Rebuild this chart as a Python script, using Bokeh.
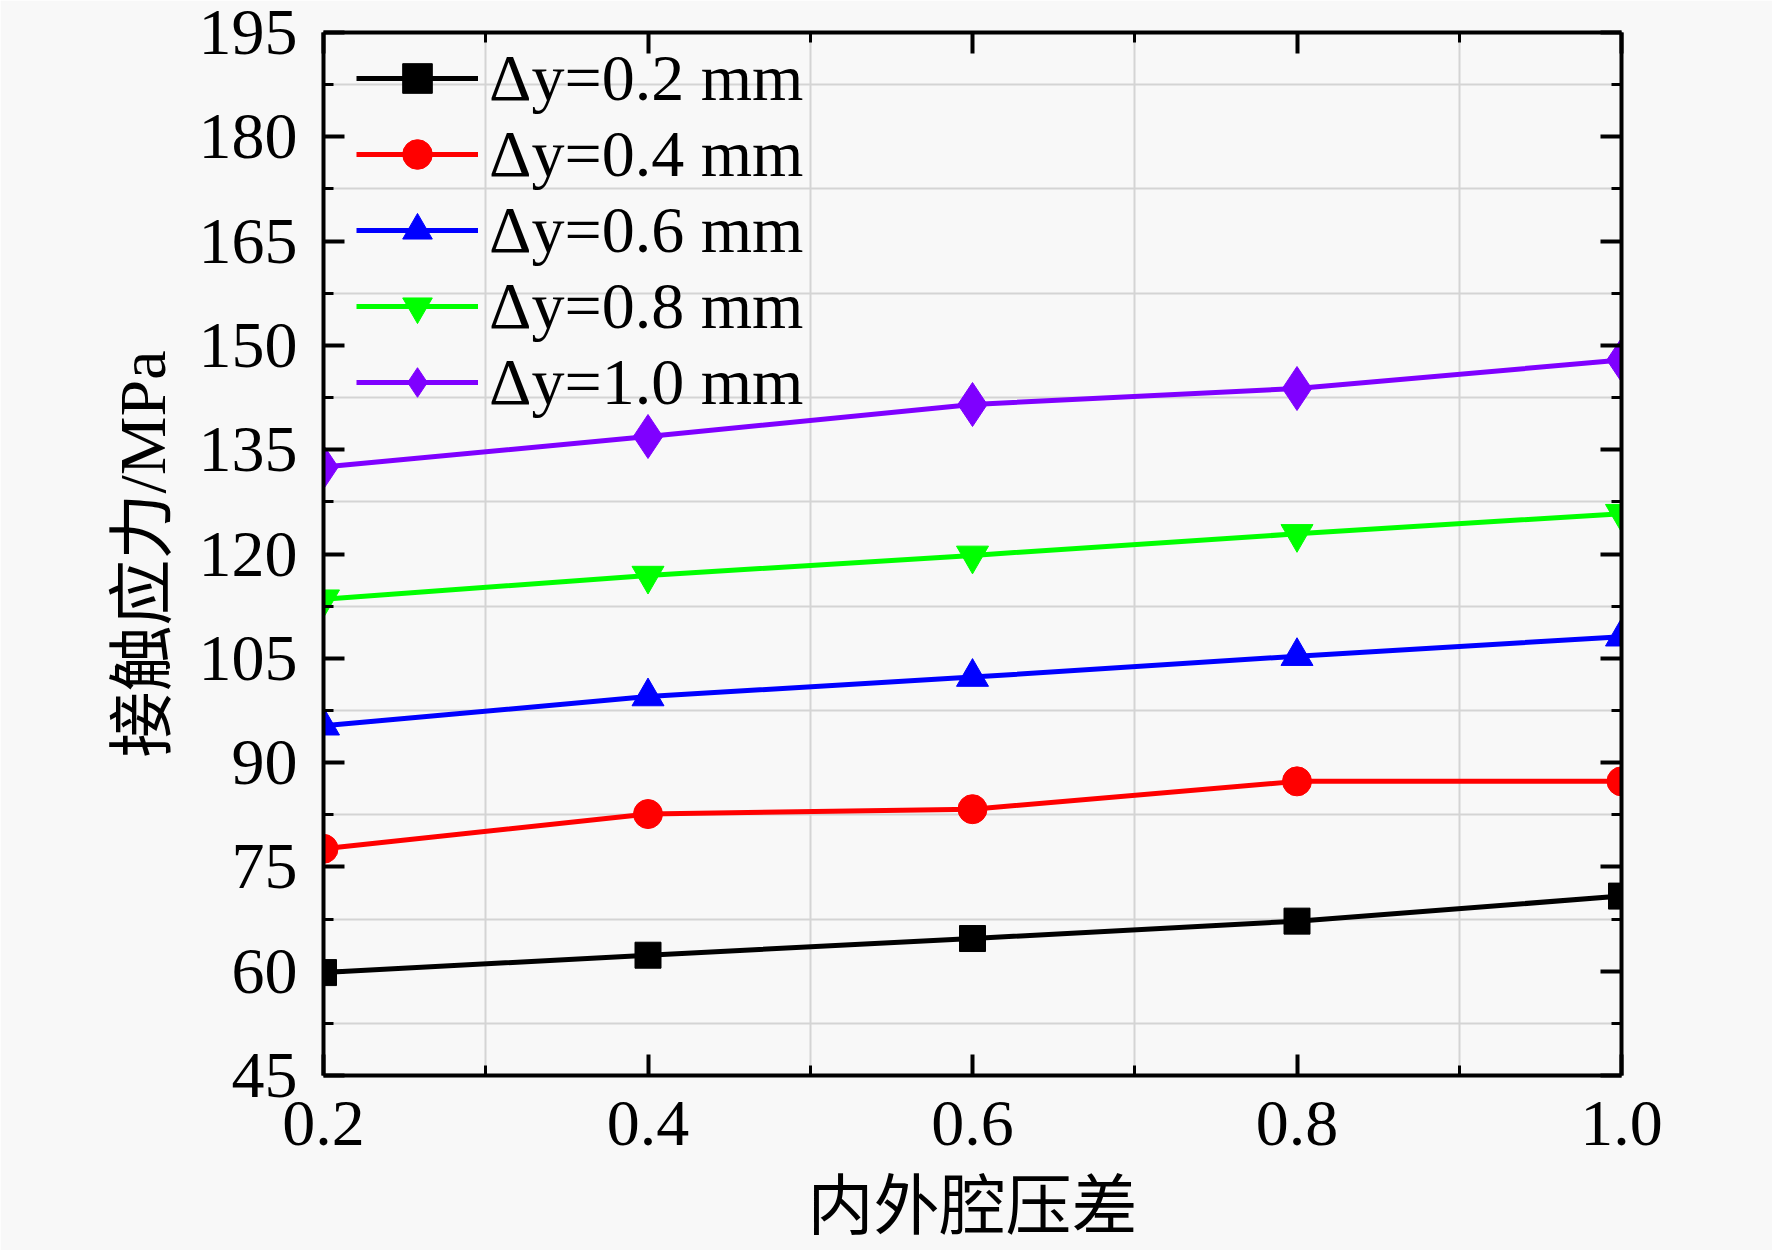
from bokeh.plotting import figure
from bokeh.models import (LinearAxis, FixedTicker, Range1d, Legend, LegendItem,
                          CustomJSTickFormatter)
from bokeh.embed import file_html
from bokeh.resources import INLINE

# ---- data ----
pressure_diff = [0.2, 0.4, 0.6, 0.8, 1.0]
stress_02 = [59.8, 62.3, 64.7, 67.2, 70.8]
stress_04 = [77.6, 82.6, 83.3, 87.3, 87.3]
stress_06 = [95.3, 99.5, 102.3, 105.3, 108.1]
stress_08 = [113.5, 116.9, 119.8, 122.9, 125.8]
stress_10 = [132.5, 136.9, 141.5, 143.8, 147.9]
series_labels = ["\u0394y=0.2 mm", "\u0394y=0.4 mm", "\u0394y=0.6 mm",
                 "\u0394y=0.8 mm", "\u0394y=1.0 mm"]
x_ticks = [0.2, 0.4, 0.6, 0.8, 1.0]
x_minor = [0.3, 0.5, 0.7, 0.9]
y_ticks = [45, 60, 75, 90, 105, 120, 135, 150, 165, 180, 195]
y_minor = [52.5, 67.5, 82.5, 97.5, 112.5, 127.5, 142.5, 157.5, 172.5, 187.5]
x_label = "内外腔压差"
y_label = "接触应力/MPa"

SERIF = "'Liberation Serif', 'Noto Sans CJK SC'"
BG = "#f8f8f8"

p = figure(width=1772, height=1250,
           min_border_left=323, min_border_right=151,
           min_border_top=32, min_border_bottom=175,
           x_range=Range1d(x_ticks[0], x_ticks[-1]),
           y_range=Range1d(y_ticks[0], y_ticks[-1]),
           output_backend="svg", toolbar_location=None,
           background_fill_color=BG, border_fill_color=BG)
p.outline_line_color = None

blank = CustomJSTickFormatter(code="return '';")

def style_axis(ax, show_labels):
    ax.axis_line_width = 4
    ax.axis_line_color = "black"
    ax.major_tick_in = 21
    ax.major_tick_out = 0
    ax.minor_tick_in = 10
    ax.minor_tick_out = 0
    ax.major_tick_line_width = 4
    ax.minor_tick_line_width = 3
    ax.major_label_text_font = SERIF
    ax.major_label_text_color = "black"
    ax.major_label_text_font_size = "66px"
    if not show_labels:
        ax.formatter = blank
        ax.major_label_standoff = 0

xt = FixedTicker(ticks=x_ticks, minor_ticks=x_minor)
yt = FixedTicker(ticks=y_ticks, minor_ticks=y_minor)

xa = p.xaxis[0]
xa.ticker = xt
xa.formatter = CustomJSTickFormatter(code="return tick.toFixed(1);")
style_axis(xa, True)
xa.major_label_standoff = 26
xa.axis_label = x_label
xa.axis_label_text_font = SERIF
xa.axis_label_text_font_size = "66px"
xa.axis_label_text_font_style = "normal"
xa.axis_label_text_color = "black"
xa.axis_label_standoff = 22

ya = p.yaxis[0]
ya.ticker = yt
style_axis(ya, True)
ya.major_label_standoff = 26
ya.axis_label = y_label
ya.axis_label_text_font = SERIF
ya.axis_label_text_font_size = "66px"
ya.axis_label_text_font_style = "normal"
ya.axis_label_text_color = "black"
ya.axis_label_standoff = 17

top = LinearAxis(ticker=FixedTicker(ticks=x_ticks, minor_ticks=x_minor))
style_axis(top, False)
p.add_layout(top, "above")
right = LinearAxis(ticker=FixedTicker(ticks=y_ticks, minor_ticks=y_minor))
style_axis(right, False)
p.add_layout(right, "right")

p.xgrid.ticker = FixedTicker(ticks=x_minor)
p.ygrid.ticker = FixedTicker(ticks=y_minor)
for g in (p.xgrid[0], p.ygrid[0]):
    g.grid_line_color = "#d4d4d4"
    g.grid_line_width = 2

series = [stress_02, stress_04, stress_06, stress_08, stress_10]
colors = ["#000000", "#ff0000", "#0000ff", "#00ff00", "#7f00ff"]
markers = ["square", "circle", "triangle", "inverted_triangle", "diamond"]
sizes = [26, 29, 32, 32, 44]

items = []
for ys, c, m, s, lab in zip(series, colors, markers, sizes, series_labels):
    ln = p.line(pressure_diff, ys, line_color=c, line_width=5)
    sc = p.scatter(pressure_diff, ys, marker=m, size=s, fill_color=c,
                   line_color=c, line_width=1)
    items.append(LegendItem(label=lab, renderers=[ln, sc]))

legend = Legend(items=items, location=(33, 655),
                border_line_color=None, background_fill_alpha=0,
                label_text_font=SERIF, label_text_font_size="66px",
                label_text_line_height=1.0,
                label_text_color="black",
                glyph_width=122, glyph_height=74, label_height=74,
                label_standoff=11, spacing=0, padding=14, margin=0)
p.add_layout(legend)

open("out.html", "w").write(file_html(p, INLINE))
